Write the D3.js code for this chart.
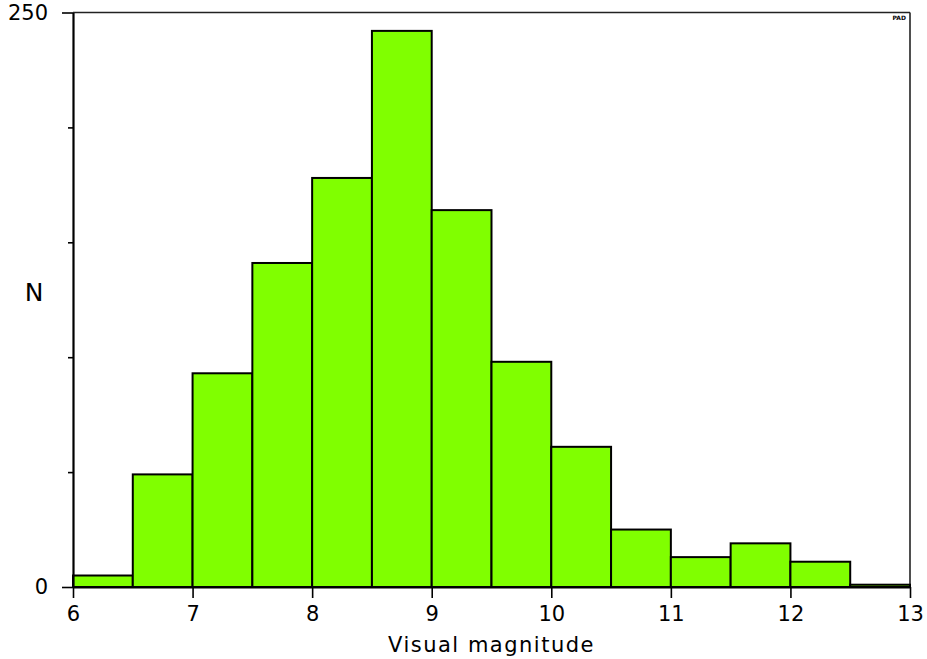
<!DOCTYPE html>
<html>
<head>
<meta charset="utf-8">
<script src="https://cdn.jsdelivr.net/npm/d3@7"></script>
<style>
  html, body { margin: 0; padding: 0; background: #fff; }
  svg { display: block; }
  text { font-family: "DejaVu Sans", sans-serif; fill: #000; }
</style>
</head>
<body>
<svg id="chart" width="927" height="659"></svg>
<script>
// Histogram bins (lower edges), bin width 0.5
const binStarts = [6, 6.5, 7, 7.5, 8, 8.5, 9, 9.5, 10, 10.5, 11, 11.5, 12, 12.5];
const counts    = [5, 49, 93, 141, 178, 242, 164, 98, 61, 25, 13, 19, 11, 1];
const binWidth = 0.5;
const xTicks = [6, 7, 8, 9, 10, 11, 12, 13];
const yTicks = [0, 50, 100, 150, 200, 250];
const yLabeled = [0, 250];
const xTitle = "Visual magnitude";
const yTitle = "N";

const W = 927, H = 659;
const m = { left: 73, right: 17, top: 12.5, bottom: 72 };
const svg = d3.select("#chart");

const x = d3.scaleLinear().domain([6, 13]).range([m.left, W - m.right]);
const y = d3.scaleLinear().domain([0, 250]).range([H - m.bottom, m.top]);

// frame top/right
svg.append("line").attr("x1", x(6)).attr("x2", x(13)).attr("y1", y(250)).attr("y2", y(250))
  .attr("stroke", "#222").attr("stroke-width", 1.6);
svg.append("line").attr("x1", x(13)).attr("x2", x(13)).attr("y1", y(250)).attr("y2", y(0))
  .attr("stroke", "#222").attr("stroke-width", 1.6);

// bars
svg.append("g").selectAll("rect").data(binStarts).join("rect")
  .attr("x", (d) => x(d))
  .attr("width", (d) => x(d + binWidth) - x(d))
  .attr("y", (d, i) => y(counts[i]))
  .attr("height", (d, i) => y(0) - y(counts[i]))
  .attr("fill", "#80ff00")
  .attr("stroke", "#000")
  .attr("stroke-width", 2);

// x axis
const xAxis = svg.append("g").attr("transform", `translate(0,${y(0)})`)
  .call(d3.axisBottom(x).tickValues(xTicks).tickFormat(d3.format("d")).tickSize(11).tickPadding(8).tickSizeOuter(0));
xAxis.select(".domain").attr("stroke", "#000").attr("stroke-width", 2.2);
xAxis.selectAll(".tick line").attr("stroke", "#000").attr("stroke-width", 1.6);
xAxis.selectAll(".tick text").attr("font-size", 21).attr("font-family", "DejaVu Sans").attr("fill", "#000");

// y axis
const yAxis = svg.append("g").attr("transform", `translate(${x(6)},0)`)
  .call(d3.axisLeft(y).tickValues(yTicks)
    .tickFormat((d) => yLabeled.includes(d) ? d3.format("d")(d) : "")
    .tickSize(5).tickPadding(14).tickSizeOuter(0));
yAxis.select(".domain").attr("stroke", "#000").attr("stroke-width", 2.2);
yAxis.selectAll(".tick line").attr("stroke", "#000").attr("stroke-width", 1.6)
  .attr("x2", (d) => yLabeled.includes(d) ? -11 : -5);
yAxis.selectAll(".tick text").attr("font-size", 21).attr("font-family", "DejaVu Sans").attr("fill", "#000")
  .attr("x", -25);

// titles
svg.append("text").attr("x", (x(6) + x(13)) / 2).attr("y", 652)
  .attr("text-anchor", "middle").attr("font-size", 21).attr("letter-spacing", 1.5)
  .text(xTitle);
svg.append("text").attr("x", 34).attr("y", 301)
  .attr("text-anchor", "middle").attr("font-size", 25)
  .text(yTitle);

// tiny tag
svg.append("text").attr("x", 906).attr("y", 20)
  .attr("text-anchor", "end").attr("font-size", 6).attr("font-weight", "bold")
  .text("PAD");
</script>
</body>
</html>
